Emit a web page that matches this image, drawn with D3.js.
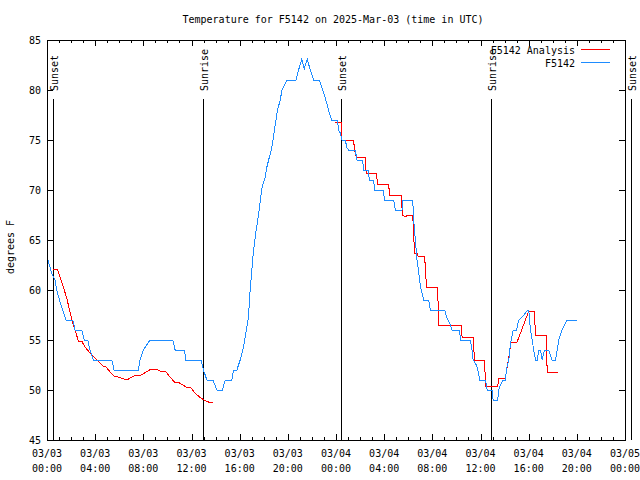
<!DOCTYPE html>
<html><head><meta charset="utf-8">
<script src="https://cdn.jsdelivr.net/npm/d3@7"></script>
<style>body{margin:0;background:#fff}svg{display:block}text{font-family:"DejaVu Sans Mono",monospace;font-size:10px;fill:#000}</style>
</head><body>
<script>
const titleText = "Temperature for F5142 on 2025-Mar-03 (time in UTC)";
const yLabel = "degrees F";
const seriesNames = ["F5142 Analysis", "F5142"];
const seriesColors = ["#ff0000", "#1e8cff"];
// hours since 2025-03-03 00:00 UTC
const obsHours = [0.08,0.44,0.66,0.81,1.08,1.35,1.58,2.14,2.33,2.88,3.10,3.38,3.57,3.85,5.38,5.57,7.59,7.73,8.0,8.56,10.45,10.64,11.41,11.53,12.80,12.99,13.28,13.77,14.11,14.57,14.80,15.35,15.49,15.77,16.04,16.32,16.46,16.73,16.87,17.10,17.29,17.56,17.85,18.12,18.26,18.68,18.95,19.14,19.37,19.51,19.93,20.67,20.89,21.16,21.36,21.61,21.86,22.14,22.63,22.83,23.11,23.38,23.63,24.13,24.21,24.36,24.50,24.77,24.91,25.05,25.60,25.74,26.21,26.29,26.68,26.77,27.12,27.21,27.90,28.04,28.79,28.93,29.48,29.53,30.37,30.45,30.59,30.73,30.95,31.01,31.15,31.28,31.70,31.84,33.03,33.17,33.50,33.64,34.27,34.33,35.16,35.30,35.39,35.66,35.77,35.94,36.41,36.55,36.97,37.05,37.43,37.52,37.66,37.88,38.07,38.15,38.35,38.43,38.55,38.71,38.99,39.18,39.46,39.73,39.93,40.01,40.15,40.29,40.42,40.57,40.71,40.84,40.98,41.12,41.31,41.67,41.95,42.23,42.37,42.50,42.64,42.78,42.98,43.20,44.03];
const obsTemps = [63,61.5,61,60,58.8,57.8,57,57,56,56,55,55,54,53,53,52,52,53,54,55,55,54,54,53,53,52,51,51,50,50,51,51,52,52,53,54.3,55.3,57.3,60,63.3,65.3,67.5,70.2,71.3,72.3,74.3,76.5,78,79,80,81,81,82,83.1,82.1,83.1,82,81,81,80.2,79.2,78,77,77,76,75.7,75,75,74.2,74,74,73,73,72,72,71,71,70,70,69,69,68,68,69,69,67,65,63,61,60.3,59.7,59,59,58,58,57.3,56.5,56,56,55,55,54,53,52.5,52,51,51,50,50,49,49,50,50.5,51,51,52,53,54,55,56,56,57,57.3,57.7,58,58,56,55,54,53,53,54,54,53,54,54,53,53,54,55,55.5,56,56.5,57,57];
const anaHours = [0.52,0.86,1.08,1.35,1.64,1.91,2.19,2.41,2.60,2.88,3.16,3.57,3.99,4.63,4.90,5.24,5.57,5.93,6.62,7.04,7.46,7.81,8.23,8.65,9.06,9.39,9.89,10.08,10.58,11.0,11.55,11.95,12.30,12.66,13.05,13.41,13.77,18.0,23.94,24.46,24.50,25.46,25.54,25.68,26.43,26.51,27.35,27.46,28.37,28.45,29.40,29.53,29.76,29.98,30.37,30.45,30.53,30.73,30.81,31.36,31.48,31.50,32.44,32.53,34.39,34.47,35.39,35.50,36.33,36.43,37.43,37.52,38.07,38.55,39.04,40.01,40.48,40.56,41.45,41.54,42.42];
const anaTemps = [62.1,62.1,61.3,60.3,59.2,57.8,56.5,55.7,54.9,54.9,54.3,53.7,53.2,52.4,52.3,51.8,51.4,51.3,51,51.3,51.5,51.5,51.8,52.1,52.1,51.9,51.8,51.5,50.8,50.7,50.3,50.2,49.7,49.3,49,48.8,48.8,null,76.8,76.8,75,75,74,73.3,73.3,71.7,71.7,70.6,70.6,69.5,69.5,67.5,67.3,67.5,67.5,65.5,63.7,63.7,63.4,63.4,61,60.3,60.3,56.5,56.5,55.3,55.3,53,53,50.4,50.4,51.2,51.2,54.8,54.8,57.9,57.9,55.5,55.5,51.8,51.8];
const sunEventHours = [0.46,12.99,24.41,36.84,48.46];
const sunEventNames = ["Sunset","Sunrise","Sunset","Sunrise","Sunset"];
const xTickLabels = ["03/03 00:00","03/03 04:00","03/03 08:00","03/03 12:00","03/03 16:00","03/03 20:00","03/04 00:00","03/04 04:00","03/04 08:00","03/04 12:00","03/04 16:00","03/04 20:00","03/05 00:00"];
const yTicks = [45,50,55,60,65,70,75,80,85];

const W = 640, H = 480;
const base = Date.UTC(2025, 2, 3);
const toDate = h => new Date(base + h * 3600e3);
const svg = d3.select("body").append("svg").attr("width", W).attr("height", H);
const x = d3.scaleUtc().domain([toDate(0), toDate(48)]).range([47, 625]);
const y = d3.scaleLinear().domain([45, 85]).range([440, 40]);
const L = 47, R = 625, T = 40, B = 440;

svg.append("text").attr("x", 333).attr("y", 23).attr("text-anchor", "middle").text(titleText);

// frame
svg.append("rect").attr("x", L + 0.5).attr("y", T + 0.5).attr("width", R - L).attr("height", B - T)
  .attr("fill", "none").attr("stroke", "#000").attr("stroke-width", 1).attr("shape-rendering", "crispEdges");

// x ticks (hourly minor, 4-hourly major) inward top and bottom
const hourTicks = d3.range(0, 49);
hourTicks.forEach(h => {
  const px = Math.round(x(toDate(h))) + 0.5;
  const len = h % 4 === 0 ? 6 : 3;
  svg.append("line").attr("x1", px).attr("x2", px).attr("y1", B).attr("y2", B - len).attr("stroke", "#000").attr("shape-rendering", "crispEdges");
  svg.append("line").attr("x1", px).attr("x2", px).attr("y1", T).attr("y2", T + len).attr("stroke", "#000").attr("shape-rendering", "crispEdges");
});
xTickLabels.forEach((lab, i) => {
  const px = x(toDate(i * 4));
  const parts = lab.split(" ");
  const t = svg.append("text").attr("text-anchor", "middle");
  t.append("tspan").attr("x", px).attr("y", 457).text(parts[0]);
  t.append("tspan").attr("x", px).attr("y", 472).text(parts[1]);
});

// y ticks
yTicks.forEach(v => {
  const py = Math.round(y(v)) + 0.5;
  svg.append("line").attr("x1", L).attr("x2", L + 6).attr("y1", py).attr("y2", py).attr("stroke", "#000").attr("shape-rendering", "crispEdges");
  svg.append("line").attr("x1", R).attr("x2", R - 6).attr("y1", py).attr("y2", py).attr("stroke", "#000").attr("shape-rendering", "crispEdges");
  svg.append("text").attr("x", 41).attr("y", y(v) + 4).attr("text-anchor", "end").text(v);
});
svg.append("text").attr("transform", "translate(14,247) rotate(-90)").attr("text-anchor", "middle").text(yLabel);

// sun events
sunEventHours.forEach((h, i) => {
  const px = Math.round(x(toDate(h))) + 0.5;
  svg.append("line").attr("x1", px).attr("x2", px).attr("y1", 99).attr("y2", B).attr("stroke", "#000").attr("stroke-width", 1).attr("shape-rendering", "crispEdges");
  svg.append("text").attr("transform", `translate(${px + 4},91) rotate(-90)`).attr("text-anchor", "start").text(sunEventNames[i]);
});

// series
const line = d3.line().defined(d => d[1] != null).x(d => x(toDate(d[0]))).y(d => y(d[1]));
const anaData = anaHours.map((h, i) => [h, anaTemps[i]]);
const obsData = obsHours.map((h, i) => [h, obsTemps[i]]);
svg.append("path").attr("d", line(anaData)).attr("fill", "none").attr("stroke", seriesColors[0]).attr("stroke-width", 1).attr("shape-rendering", "crispEdges");
svg.append("path").attr("d", line(obsData)).attr("fill", "none").attr("stroke", seriesColors[1]).attr("stroke-width", 1).attr("shape-rendering", "crispEdges");

// legend
seriesNames.forEach((n, i) => {
  const ly = 50 + i * 13;
  svg.append("text").attr("x", 575).attr("y", ly + 4).attr("text-anchor", "end").text(n);
  svg.append("line").attr("x1", 581).attr("x2", 610).attr("y1", ly - 0.5).attr("y2", ly - 0.5).attr("stroke", seriesColors[i]).attr("stroke-width", 1).attr("shape-rendering", "crispEdges");
});
</script>
</body></html>
